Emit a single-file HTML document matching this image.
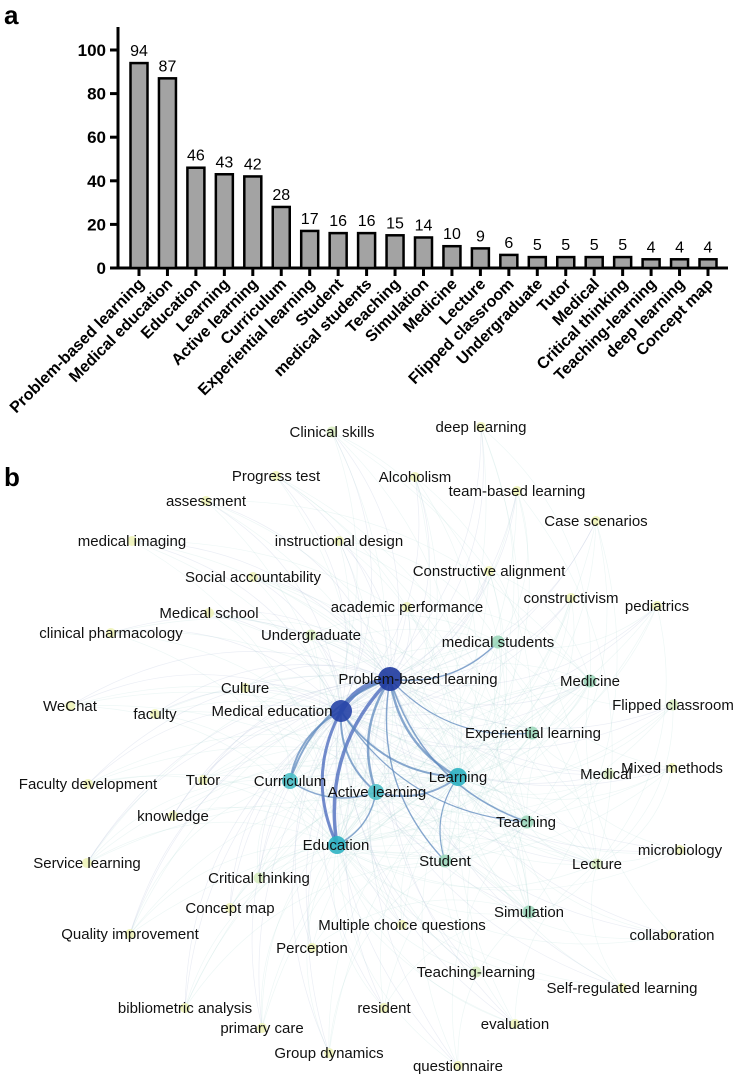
<!DOCTYPE html>
<html><head><meta charset="utf-8">
<style>
body{margin:0;background:#fff;width:749px;height:1079px;overflow:hidden;font-family:"Liberation Sans",Arial,sans-serif}
svg{display:block}
</style></head>
<body>
<svg id="chart" width="749" height="1079" viewBox="0 0 749 1079" xmlns="http://www.w3.org/2000/svg">
<text x="4" y="24" font-size="26" font-weight="bold">a</text>
<text x="4" y="486" font-size="26" font-weight="bold">b</text>
<g id="bars"></g>
<g id="net"></g>
</svg>
<script>
const categories=["Problem-based learning","Medical education","Education","Learning","Active learning","Curriculum","Experiential learning","Student","medical students","Teaching","Simulation","Medicine","Lecture","Flipped classroom","Undergraduate","Tutor","Medical","Critical thinking","Teaching-learning","deep learning","Concept map"];
const counts=[94,87,46,43,42,28,17,16,16,15,14,10,9,6,5,5,5,5,4,4,4];
const yTicks=[0,20,40,60,80,100];

const NS="http://www.w3.org/2000/svg";
function mk(tag,attrs,parent){const e=document.createElementNS(NS,tag);for(const k in attrs)e.setAttribute(k,attrs[k]);parent.appendChild(e);return e;}
const bars=document.getElementById('bars');
const y0=268,yScale=2.18;
const yPos=v=>y0-v*yScale;
const xFirst=139,xStep=(708-139)/(categories.length-1);
const xPos=i=>xFirst+i*xStep;
let ax=mk('line',{x1:118,y1:27,x2:118,y2:y0+1.5,stroke:'#000','stroke-width':3},bars);


let bx=mk('line',{x1:116.5,y1:y0,x2:728,y2:y0,stroke:'#000','stroke-width':3},bars);


yTicks.forEach(t=>{
  const y=yPos(t);
  const l=mk('line',{x1:110,y1:y,x2:118,y2:y,stroke:'#000','stroke-width':3},bars);
  
  
  const tx=mk('text',{x:106,y:y+6,'text-anchor':'end','font-size':17,'font-weight':'bold'},bars);
  tx.textContent=t;
  
  
});
categories.forEach((c,i)=>{
  const x=xPos(i),v=counts[i];
  const r=mk('rect',{x:x-8.5,y:yPos(v),width:17,height:v*yScale,fill:'#a3a3a3',stroke:'#000','stroke-width':2.5},bars);
  
  
  const vt=mk('text',{x:x,y:yPos(v)-7,'text-anchor':'middle','font-size':16},bars);
  vt.textContent=v;
  
  
  const tk=mk('line',{x1:x,y1:y0,x2:x,y2:y0+8,stroke:'#000','stroke-width':3},bars);
  
  
  const lt=mk('text',{x:x+6,y:y0+17,'text-anchor':'end','font-size':16,'font-weight':'bold',transform:`rotate(-45 ${x+6} ${y0+17})`},bars);
  lt.textContent=c;
  
  
});

const nodeNames=["Clinical skills","deep learning","Progress test","Alcoholism","team-based learning","assessment","Case scenarios","medical imaging","instructional design","Constructive alignment","Social accountability","constructivism","pediatrics","academic performance","Medical school","clinical pharmacology","Undergraduate","medical students","Problem-based learning","Medicine","Culture","Medical education","WeChat","faculty","Flipped classroom","Experiential learning","Faculty development","Tutor","Curriculum","Active learning","Learning","Medical","Mixed methods","Teaching","knowledge","Education","Service learning","Student","Lecture","microbiology","Critical thinking","Concept map","Simulation","Multiple choice questions","Quality improvement","collaboration","Perception","Teaching-learning","Self-regulated learning","bibliometric analysis","resident","primary care","evaluation","Group dynamics","questionnaire"];
const nodeX=[332,481,276,415,517,206,596,132,339,489,253,571,657,407,209,111,311,498,390,590,245,341,70,155,673,532,88,203,290,376,458,609,672,527,173,337,87,445,597,680,259,230,529,402,130,672,312,476,622,185,384,262,515,329,458];
const nodeY=[432,427,476,477,491,501,521,541,541,571,577,598,606,607,613,633,635,642,679,681,688,711,706,714,705,733,784,780,781,792,777,774,768,822,816,845,863,861,864,850,878,908,912,925,934,935,948,972,988,1008,1008,1028,1024,1053,1066];
const labelX=[332,481,276,415,517,206,596,132,339,489,253,571,657,407,209,111,311,498,418,590,245,272,70,155,673,533,88,203,290,377,458,606,672,526,173,336,87,445,597,680,259,230,529,402,130,672,312,476,622,185,384,262,515,329,458];
const degree=[3,2,2,2,2,2,2,2,2,2,2,2,2,2,2,2,3,5,12,5,2,11,2,2,3,5,2,2,7,7,8,3,2,6,2,8,2,5,4,2,3,2,5,2,2,2,2,3,2,2,2,2,2,2,2];

const net=document.getElementById('net');
const eg=mk('g',{fill:'none'},net);


function edge(a,b,w,col,op){
  const x1=nodeX[a],y1=nodeY[a],x2=nodeX[b],y2=nodeY[b];
  const mx=(x1+x2)/2,my=(y1+y2)/2,dx=x2-x1,dy=y2-y1;
  const cx=mx-dy*0.25,cy=my+dx*0.25;
  const p=mk('path',{d:`M${x1},${y1} Q${cx},${cy} ${x2},${y2}`,stroke:col,'stroke-width':w,'stroke-opacity':op},eg);
  
  
}
const hubs=[18,21,35,30,28,29,33,37,17,25,42,19,38];
hubs.forEach((h,hi)=>{
  nodeNames.forEach((n,i)=>{
    if(i===h)return;
    if(hi>3 && (i+hi)%4!==0)return;
    edge(h,i,0.7,hi<2?'#9aa8cc':'#a8d6d2',0.2);
  });
});
const strong=[[18,21,5],[18,35,3.5],[18,30,2.5],[18,29,2.5],[18,28,2],[21,35,3],[21,29,2],[21,28,2],[21,30,2],[29,30,1.8],[28,29,1.5],[35,29,1.5],[18,33,1.6],[18,17,1.4],[18,37,1.4],[30,37,1.2],[21,33,1.2],[18,25,1.2]];
strong.forEach(s=>edge(s[0],s[1],s[2],s[2]>2.5?'#3a5cb8':'#5a86bc',0.7));

const ng=mk('g',{},net);
nodeNames.forEach((n,i)=>{
  const d=degree[i];
  let col='#eef3b8',r=5;
  if(d>=11){col=d>=12?'#1e3a9e':'#2642a6';r=d>=12?12:11;}
  else if(d>=7){col=d>=8?'#2eb2c2':'#4ec0c8';r=d>=8?9:8;}
  else if(d>=5){col='#9fd8bc';r=6.5;}
  else if(d>=3){col='#d8ecc0';r=5.5;}
  const c=mk('circle',{cx:nodeX[i],cy:nodeY[i],r:r,fill:col,'fill-opacity':0.9},ng);
  
  
});
nodeNames.forEach((n,i)=>{
  const t=mk('text',{x:labelX[i],y:nodeY[i]+5,'text-anchor':'middle','font-size':15,fill:'#111'},ng);
  t.textContent=n;
  
  
});
</script>
</body></html>
